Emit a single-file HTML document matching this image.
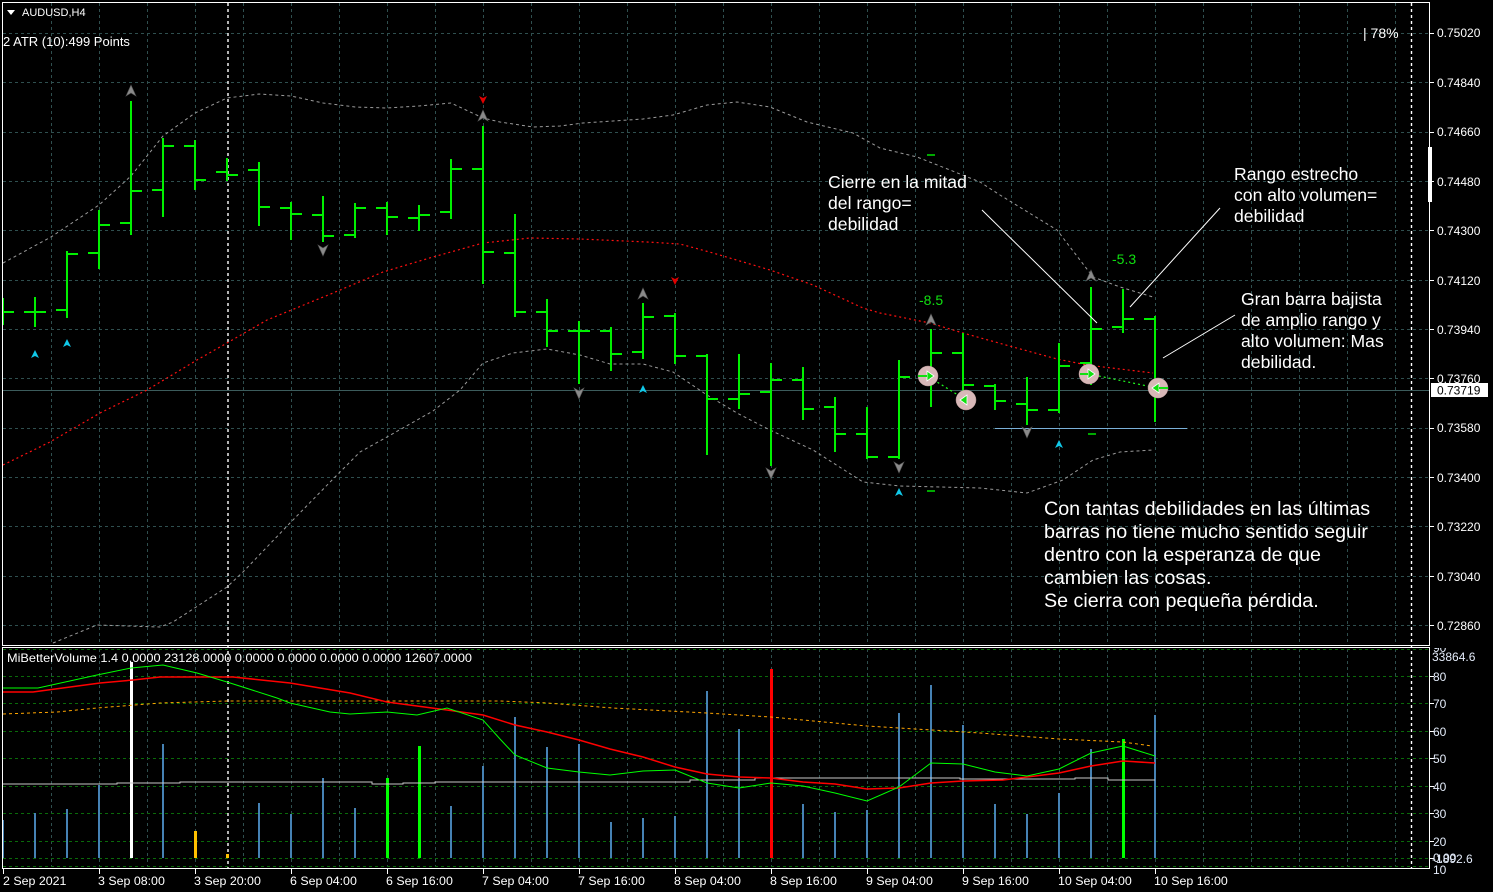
<!DOCTYPE html>
<html><head><meta charset="utf-8"><style>
html,body{margin:0;padding:0;background:#000;}
svg{display:block;}
text{font-family:"Liberation Sans",Arial,sans-serif;}
</style></head><body>
<svg width="1493" height="892" viewBox="0 0 1493 892" xmlns="http://www.w3.org/2000/svg">
<defs><clipPath id="ic"><rect x="1430" y="648" width="63" height="230"/></clipPath></defs>
<rect width="1493" height="892" fill="#000"/>
<!-- main grid -->
<g stroke="#2f4f4f" stroke-width="1" stroke-dasharray="3,3" fill="none">
<path d="M3 33.5H1428M3 82.5H1428M3 132.5H1428M3 181.5H1428M3 230.5H1428M3 280.5H1428M3 329.5H1428M3 378.5H1428M3 428.5H1428M3 477.5H1428M3 526.5H1428M3 576.5H1428M3 625.5H1428"/>
<path d="M51.5 3V645M99.5 3V645M147.5 3V645M195.5 3V645M243.5 3V645M291.5 3V645M339.5 3V645M387.5 3V645M435.5 3V645M483.5 3V645M531.5 3V645M579.5 3V645M627.5 3V645M675.5 3V645M723.5 3V645M771.5 3V645M819.5 3V645M867.5 3V645M915.5 3V645M963.5 3V645M1011.5 3V645M1059.5 3V645M1107.5 3V645M1155.5 3V645M1203.5 3V645M1251.5 3V645M1299.5 3V645M1347.5 3V645M1395.5 3V645"/>
<path d="M51.5 649V867M99.5 649V867M147.5 649V867M195.5 649V867M243.5 649V867M291.5 649V867M339.5 649V867M387.5 649V867M435.5 649V867M483.5 649V867M531.5 649V867M579.5 649V867M627.5 649V867M675.5 649V867M723.5 649V867M771.5 649V867M819.5 649V867M867.5 649V867M915.5 649V867M963.5 649V867M1011.5 649V867M1059.5 649V867M1107.5 649V867M1155.5 649V867M1203.5 649V867M1251.5 649V867M1299.5 649V867M1347.5 649V867M1395.5 649V867"/>
</g>
<!-- indicator grid -->
<g stroke="#0a6a0a" stroke-width="1" stroke-dasharray="3,3" fill="none">
<path d="M3 649.5H1428M3 676.5H1428M3 703.5H1428M3 731.5H1428M3 758.5H1428M3 786.5H1428M3 813.5H1428M3 841.5H1428M3 858.5H1428M3 866.5H1428"/>
</g>
<!-- price line -->
<path d="M3 390.5H1429" stroke="#3c5c5c" stroke-width="1"/>
<!-- white dashed verticals -->
<path d="M228 3V868M1411.5 3V868" stroke="#fff" stroke-width="1.4" stroke-dasharray="3,3"/>
<!-- bollinger bands -->
<g fill="none" stroke="#9a9a9a" stroke-width="1" stroke-dasharray="3,3">
<polyline points="3,263 51,237 99,205 131,176 163,136 195,113 227,98 259,94 291,96 323,103 355,107 387,108 419,106 451,103 483,118 500,122 533,127 560,126 583,123 643,119 673,115 707,105 737,102 770,107 807,122 853,133 880,148 917,157 950,170 980,182 1000,195 1013,203 1057,230 1080,260 1093,277 1120,287 1153,297"/>
<polyline points="53,643 97,625 160,627 173,622 227,587 243,572 290,523 337,475 360,452 387,437 433,411 460,390 483,363 513,353 547,349 580,355 610,364 643,364 673,372 707,395 737,413 770,430 813,450 863,482 900,486 940,487 980,488 1027,493 1063,480 1093,460 1120,452 1153,450"/>
</g>
<!-- red MA -->
<polyline fill="none" stroke="#ff1010" stroke-width="1.2" stroke-dasharray="2,3" points="3,465 50,442 100,413 147,390 197,360 227,343 267,320 333,293 383,272 433,257 483,243 530,238 580,239 647,242 680,244 713,253 770,270 813,285 863,308 880,313 930,323 963,333 1013,347 1057,359 1087,365 1153,373"/>
<!-- blue hline -->
<path d="M995 428.5H1187" stroke="#7ab0d8" stroke-width="1"/>
<!-- bars -->
<path fill="none" stroke="#00f000" stroke-width="2" d="M3 298V325M3 312H14
M35 297V327M24 312H46
M67 251V318M56 310H67M67 254H78
M99 210V269M88 253H99M99 225H110
M131 101V235M120 223H131M131 191H142
M163 138V217M152 190H163M163 146H174
M195 140V190M184 146H195M195 180H206
M227 158V181M216 172H227M227 175H238
M259 162V226M248 170H259M259 207H270
M291 202V240M280 208H291M291 214H302
M323 196V242M312 215H323M323 236H334
M355 203V238M344 235H355M355 208H366
M387 202V235M376 208H387M387 217H398
M419 205V231M408 218H419M419 215H430
M451 159V219M440 212H451M451 169H462
M483 126V284M472 169H483M483 252H494
M515 214V317M504 253H515M515 312H526
M547 299V347M536 312H547M547 331H558
M579 321V384M568 331H590
M611 327V371M600 331H611M611 354H622
M643 303V359M632 352H643M643 317H654
M675 313V364M664 316H675M675 356H686
M707 354V455M696 356H707M707 399H718
M739 354V409M728 399H739M739 394H750
M771 363V466M760 392H771M771 380H782
M803 367V420M792 380H803M803 409H814
M835 397V452M824 407H835M835 434H846
M867 407V459M856 434H867M867 457H878
M899 360V459M888 457H899M899 377H910
M931 329V407M920 377H931M931 353H942
M963 333V399M952 353H963M963 385H974
M995 384V410M984 386H995M995 401H1006
M1027 377V425M1016 404H1027M1027 410H1038
M1059 343V413M1048 410H1059M1059 366H1070
M1091 287V385M1080 363H1091M1091 329H1102
M1123 289V333M1112 327H1123M1123 319H1134
M1155 316V422M1144 319H1155M1155 389H1166"/>
<!-- green small dashes -->
<path d="M927 155H935M927 491H935M1088 434H1096" stroke="#00e000" stroke-width="1.5"/>
<!-- gray fractal arrows -->
<g fill="#8a8a8a" stroke="#555" stroke-width="0.6">
<path d="M131 85L136 96L131 93L126 96Z"/>
<path d="M483 110L488 121L483 118L478 121Z"/>
<path d="M643 288L648 299L643 296L638 299Z"/>
<path d="M931 314L936 325L931 322L926 325Z"/>
<path d="M1091 270L1096 281L1091 278L1086 281Z"/>
<path d="M323 256L328 245L323 248L318 245Z"/>
<path d="M579 399L584 388L579 391L574 388Z"/>
<path d="M771 479L776 468L771 471L766 468Z"/>
<path d="M899 473L904 462L899 465L894 462Z"/>
<path d="M1027 438L1032 427L1027 430L1022 427Z"/>
</g>
<g fill="#e00000">
<path d="M483 104L487 96L483 98L479 96Z"/>
<path d="M675 285L679 277L675 279L671 277Z"/>
</g>
<g fill="#10c8e8">
<path d="M35 350L39 358L35 356L31 358Z"/>
<path d="M67 339L71 347L67 345L63 347Z"/>
<path d="M643 385L647 393L643 391L639 393Z"/>
<path d="M899 488L903 496L899 494L895 496Z"/>
<path d="M1059 440L1063 448L1059 446L1055 448Z"/>
</g>
<!-- green dotted connectors -->
<path d="M929 377L966 400M1089 374L1157 388" stroke="#20ff20" stroke-width="1.2" stroke-dasharray="2,3" fill="none"/>
<!-- circles -->
<g fill="#d8b8b8" stroke="#b89898" stroke-width="0.5">
<circle cx="928" cy="376" r="10"/>
<circle cx="966" cy="400" r="10"/>
<circle cx="1089" cy="374" r="10"/>
<circle cx="1158" cy="388" r="10"/>
</g>
<g fill="#10e010" stroke="#fff" stroke-width="0.8">
<path d="M934 376L927 371V381Z"/>
<path d="M960 400L967 395V405Z"/>
<path d="M1095 374L1088 369V379Z"/>
<path d="M1152 388L1159 383V393Z"/>
</g>
<path d="M918 376H927M1080 374H1088M1159 388H1168" stroke="#10e010" stroke-width="2"/>
<!-- annotation pointer lines -->
<path d="M982 210L1097 323M1220 208L1130 307M1235 315L1163 358" stroke="#fff" stroke-width="1" fill="none"/>
<!-- annotation texts -->
<g fill="#fff" font-size="17.6">
<text x="828" y="188">Cierre en la mitad</text>
<text x="828" y="209">del rango=</text>
<text x="828" y="230">debilidad</text>
<text x="1234" y="180">Rango estrecho</text>
<text x="1234" y="201">con alto volumen=</text>
<text x="1234" y="222">debilidad</text>
<text x="1241" y="305">Gran barra bajista</text>
<text x="1241" y="326">de amplio rango y</text>
<text x="1241" y="347">alto volumen: Mas</text>
<text x="1241" y="368">debilidad.</text>
</g>
<g fill="#fff" font-size="19.7">
<text x="1044" y="515">Con tantas debilidades en las últimas</text>
<text x="1044" y="538">barras no tiene mucho sentido seguir</text>
<text x="1044" y="561">dentro con la esperanza de que</text>
<text x="1044" y="584">cambien las cosas.</text>
<text x="1044" y="607">Se cierra con pequeña pérdida.</text>
</g>
<g fill="#10e010" font-size="14">
<text x="919" y="305">-8.5</text>
<text x="1112" y="264">-5.3</text>
</g>
<!-- header texts -->
<path d="M7 10H15L11 15Z" fill="#fff"/>
<text x="22" y="16" fill="#fff" font-size="11">AUDUSD,H4</text>
<text x="3" y="46" fill="#fff" font-size="13">2 ATR (10):499 Points</text>
<text x="1363" y="38" fill="#fff" font-size="14">| 78%</text>
<!-- volume bars -->
<g fill="none" stroke="#4682b4" stroke-width="2">
<path d="M3 858V820M35 858V813M67 858V809M99 858V785M163 858V744M259 858V803M291 858V814M323 858V778M355 858V808M451 858V806M483 858V766M515 858V717M547 858V747M579 858V744M611 858V822M643 858V818M675 858V816M707 858V691M739 858V729M803 858V804M835 858V812M867 858V810M899 858V713M931 858V685M963 858V725M995 858V804M1027 858V814M1059 858V793M1091 858V749M1155 858V715"/>
</g>
<path d="M131.5 858V662" stroke="#fff" stroke-width="3"/>
<path d="M195.5 858V831M227.5 858V854" stroke="#ffc000" stroke-width="3"/>
<path d="M387.5 858V778M419.5 858V746M1123.5 858V739" stroke="#00ff00" stroke-width="3"/>
<path d="M771.5 858V669" stroke="#ff0000" stroke-width="3"/>
<!-- indicator lines -->
<polyline fill="none" stroke="#ffa500" stroke-width="1" stroke-dasharray="3,3" points="3,714 57,712 97,708 160,703 227,701 500,701 547,703 613,708 707,713 771,717 867,726 980,733 1059,739 1123,742 1152,746"/>
<polyline fill="none" stroke="#c8c8c8" stroke-width="1" points="3,784 117,784 117,783 180,783 180,782 372,782 372,784 403,784 403,783 435,783 435,782 690,782 690,780 755,780 755,778 960,778 960,779 1075,779 1075,778 1108,778 1108,780 1155,780"/>
<polyline fill="none" stroke="#ff0000" stroke-width="1.5" points="3,692 33,692 100,683 133,680 160,677 233,677 290,683 350,693 387,702 447,710 483,715 515,725 547,732 579,740 610,749 643,757 675,767 707,774 739,777 771,778 803,782 835,784 867,789 899,788 931,783 963,781 1003,780 1027,777 1059,773 1091,766 1123,761 1155,763"/>
<polyline fill="none" stroke="#00ff00" stroke-width="1" points="3,688 38,688 97,675 131,668 163,665 197,673 227,682 277,698 290,703 330,712 350,714 387,712 417,715 447,708 483,720 500,739 515,755 547,768 579,772 610,775 643,771 675,770 707,783 739,788 771,783 803,786 835,793 867,801 899,787 931,763 963,764 995,772 1027,776 1059,769 1091,753 1123,746 1155,756"/>
<!-- borders -->
<g stroke="#fff" stroke-width="1" fill="none">
<path d="M2.5 2.5H1429.5V645.5H2.5Z"/>
<path d="M2.5 647.5H1429.5V868.5H2.5Z"/>
</g>
<rect x="1428" y="147" width="4" height="55" fill="#fff"/>
<!-- price axis ticks & labels -->
<path d="M1430 33.5H1434M1430 82.5H1434M1430 132.5H1434M1430 181.5H1434M1430 230.5H1434M1430 280.5H1434M1430 329.5H1434M1430 378.5H1434M1430 428.5H1434M1430 477.5H1434M1430 526.5H1434M1430 576.5H1434M1430 625.5H1434" stroke="#fff"/>
<g fill="#fff" font-size="12">
<text x="1437" y="37">0.75020</text>
<text x="1437" y="87">0.74840</text>
<text x="1437" y="136">0.74660</text>
<text x="1437" y="186">0.74480</text>
<text x="1437" y="235">0.74300</text>
<text x="1437" y="285">0.74120</text>
<text x="1437" y="334">0.73940</text>
<text x="1437" y="383">0.73760</text>
<text x="1437" y="432">0.73580</text>
<text x="1437" y="482">0.73400</text>
<text x="1437" y="531">0.73220</text>
<text x="1437" y="581">0.73040</text>
<text x="1437" y="630">0.72860</text>
</g>
<rect x="1431" y="383" width="57" height="14" fill="#fff"/>
<text x="1437" y="394.5" fill="#000" font-size="12">0.73719</text>
<!-- indicator axis -->
<path d="M1430 676.5H1434M1430 703.5H1434M1430 731.5H1434M1430 758.5H1434M1430 786.5H1434M1430 813.5H1434M1430 841.5H1434M1430 858.5H1434" stroke="#fff"/>
<g fill="#e4ecfa" font-size="12" clip-path="url(#ic)">
<text x="1433" y="652">90</text>
<text x="1432" y="661">33864.6</text>
<text x="1433" y="681">80</text>
<text x="1433" y="708">70</text>
<text x="1433" y="736">60</text>
<text x="1433" y="763">50</text>
<text x="1433" y="791">40</text>
<text x="1433" y="818">30</text>
<text x="1433" y="846">20</text>
<text x="1432" y="863">-1892.6</text>
<text x="1433" y="862">0.00</text>
<text x="1433" y="874">10</text>
</g>
<text x="7" y="662" fill="#fff" font-size="12" textLength="465" lengthAdjust="spacingAndGlyphs">MiBetterVolume 1.4 0.0000 23128.0000 0.0000 0.0000 0.0000 0.0000 12607.0000</text>
<!-- time axis -->
<path d="M3.5 869V874M99.5 869V874M195.5 869V874M291.5 869V874M387.5 869V874M483.5 869V874M579.5 869V874M675.5 869V874M771.5 869V874M867.5 869V874M963.5 869V874M1059.5 869V874M1155.5 869V874" stroke="#fff"/>
<g fill="#fff" font-size="12.4">
<text x="3" y="885">2 Sep 2021</text>
<text x="98" y="885">3 Sep 08:00</text>
<text x="194" y="885">3 Sep 20:00</text>
<text x="290" y="885">6 Sep 04:00</text>
<text x="386" y="885">6 Sep 16:00</text>
<text x="482" y="885">7 Sep 04:00</text>
<text x="578" y="885">7 Sep 16:00</text>
<text x="674" y="885">8 Sep 04:00</text>
<text x="770" y="885">8 Sep 16:00</text>
<text x="866" y="885">9 Sep 04:00</text>
<text x="962" y="885">9 Sep 16:00</text>
<text x="1058" y="885">10 Sep 04:00</text>
<text x="1154" y="885">10 Sep 16:00</text>
</g>
</svg>
</body></html>
